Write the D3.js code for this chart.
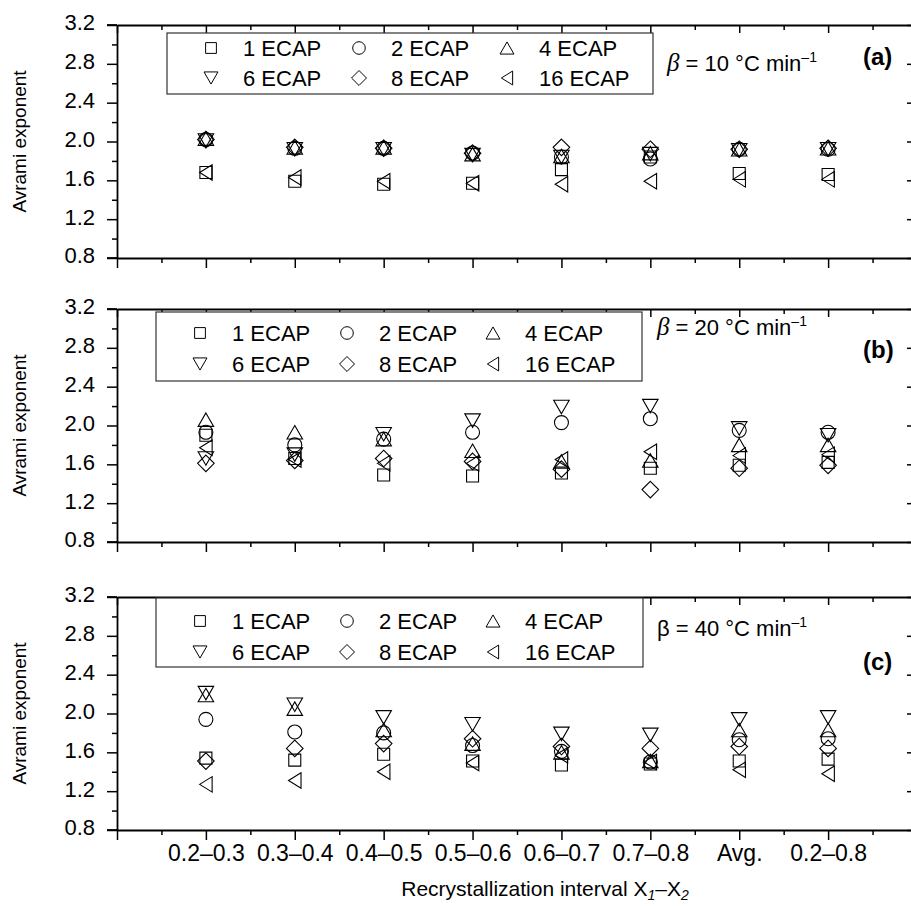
<!DOCTYPE html>
<html>
<head>
<meta charset="utf-8">
<script src="https://cdn.jsdelivr.net/npm/d3@7"></script>
<style>
  body { margin: 0; background: #fff; }
  svg { display: block; font-family: "Liberation Sans", Arial, sans-serif; }
</style>
</head>
<body>
<svg id="chart" width="911" height="906"></svg>
<script>
// Recrystallization intervals on the x axis
const intervals = ["0.2–0.3", "0.3–0.4", "0.4–0.5", "0.5–0.6", "0.6–0.7", "0.7–0.8", "Avg.", "0.2–0.8"];
// Number of ECAP passes (one series each)
const passes = ["1 ECAP", "2 ECAP", "4 ECAP", "6 ECAP", "8 ECAP", "16 ECAP"];
const yTickValues = [0.8, 1.2, 1.6, 2.0, 2.4, 2.8, 3.2];

// Avrami exponent, heating rate 10 °C/min; rows follow `passes`
const rate10 = [
  [1.68, 1.59, 1.56, 1.57, 1.71, 1.84, 1.67, 1.66],
  [2.02, 1.93, 1.93, 1.88, 1.84, 1.82, 1.92, 1.92],
  [2.03, 1.94, 1.94, 1.87, 1.85, 1.88, 1.92, 1.93],
  [2.01, 1.92, 1.92, 1.86, 1.84, 1.87, 1.91, 1.92],
  [2.02, 1.94, 1.93, 1.88, 1.94, 1.92, 1.92, 1.93],
  [1.68, 1.63, 1.59, 1.57, 1.56, 1.59, 1.61, 1.61]
];
// Heating rate 20 °C/min
const rate20 = [
  [1.90, 1.66, 1.49, 1.48, 1.51, 1.56, 1.59, 1.62],
  [1.93, 1.80, 1.86, 1.93, 2.03, 2.07, 1.95, 1.93],
  [2.06, 1.93, 1.86, 1.74, 1.63, 1.64, 1.80, 1.80],
  [1.66, 1.70, 1.91, 2.05, 2.19, 2.20, 1.97, 1.90],
  [1.61, 1.64, 1.66, 1.63, 1.55, 1.34, 1.56, 1.59],
  [1.77, 1.65, 1.61, 1.61, 1.65, 1.73, 1.69, 1.70]
];
// Heating rate 40 °C/min
const rate40 = [
  [1.54, 1.52, 1.58, 1.51, 1.47, 1.48, 1.51, 1.53],
  [1.94, 1.81, 1.80, 1.67, 1.61, 1.50, 1.73, 1.74],
  [2.19, 2.05, 1.83, 1.69, 1.60, 1.51, 1.83, 1.83],
  [2.21, 2.09, 1.96, 1.89, 1.79, 1.78, 1.94, 1.96],
  [1.51, 1.64, 1.69, 1.74, 1.66, 1.64, 1.66, 1.64],
  [1.27, 1.31, 1.40, 1.49, 1.57, 1.50, 1.42, 1.38]
];

// Open marker outlines, one per series, centred on (0,0)
const markerPaths = [
  "M-6,-6h12v12h-12Z",                                   // square
  d3.symbol(d3.symbolCircle, Math.PI * 49)(),            // circle r=7
  "M0,-6.75L7.75,6.75L-7.75,6.75Z",                      // triangle up
  "M0,6.75L7.75,-6.75L-7.75,-6.75Z",                     // triangle down
  "M0,-8.3L8.3,0L0,8.3L-8.3,0Z",                         // diamond
  "M-6.25,0L6.25,-7.75L6.25,7.75Z"                       // triangle left
];

const svg = d3.select("#chart");
const xLeft = 117, xRight = 917;
const x = d3.scaleLinear().domain([0, 9]).range([xLeft, xRight]);

const panelDefs = [
  { values: rate10, rate: "10", tag: "(a)", italicBeta: true,  top: 25,  bottom: 258,
    legend: { x: 167, y: 33,  w: 486, h: 61, rows: [15, 45], cols: [211, 359, 507] },
    betaPos: [667, 71], tagPos: [863, 65] },
  { values: rate20, rate: "20", tag: "(b)", italicBeta: true,  top: 309, bottom: 542,
    legend: { x: 156, y: 312, w: 486, h: 69, rows: [21, 52], cols: [200, 347, 493] },
    betaPos: [657, 335], tagPos: [863, 358] },
  { values: rate40, rate: "40", tag: "(c)", italicBeta: false, top: 597, bottom: 830,
    legend: { x: 156, y: 598, w: 487, h: 69, rows: [23, 54], cols: [200, 347, 493] },
    betaPos: [657, 636], tagPos: [863, 670] }
];

panelDefs.forEach((p, pi) => {
  const y = d3.scaleLinear().domain([0.8, 3.2]).range([p.bottom, p.top]);
  const g = svg.append("g");
  const minorY = d3.range(1.0, 3.2, 0.4);
  const majorX = d3.range(0, 10);
  const minorX = d3.range(0.5, 9, 1);

  const styleAxis = sel => {
    sel.selectAll(".domain").attr("stroke", "#000").attr("stroke-width", 1.8);
    sel.selectAll(".tick line").attr("stroke", "#000").attr("stroke-width", 1.5);
  };

  // left axis: labelled majors + minors, outward
  g.append("g").attr("transform", `translate(${xLeft},0)`)
    .call(d3.axisLeft(y).tickValues(yTickValues).tickSize(10).tickSizeOuter(0).tickFormat(d3.format(".1f")))
    .call(styleAxis)
    .call(s => s.selectAll("text").attr("font-size", 22).attr("fill", "#000").attr("x", -22).attr("dy", "0.22em"));
  g.append("g").attr("transform", `translate(${xLeft},0)`)
    .call(d3.axisLeft(y).tickValues(minorY).tickSize(5).tickFormat(""))
    .call(styleAxis).call(s => s.select(".domain").remove());

  // right axis: inward ticks
  g.append("g").attr("transform", `translate(${xRight},0)`)
    .call(d3.axisRight(y).tickValues(yTickValues).tickSize(-10).tickSizeOuter(0).tickFormat(""))
    .call(styleAxis);
  g.append("g").attr("transform", `translate(${xRight},0)`)
    .call(d3.axisRight(y).tickValues(minorY).tickSize(-5).tickFormat(""))
    .call(styleAxis).call(s => s.select(".domain").remove());

  // top axis: inward ticks
  g.append("g").attr("transform", `translate(0,${p.top})`)
    .call(d3.axisTop(x).tickValues(majorX).tickSize(-8).tickSizeOuter(0).tickFormat(""))
    .call(styleAxis);
  g.append("g").attr("transform", `translate(0,${p.top})`)
    .call(d3.axisTop(x).tickValues(minorX).tickSize(-5).tickFormat(""))
    .call(styleAxis).call(s => s.select(".domain").remove());
  g.append("line").attr("x1", xLeft - 10).attr("x2", xLeft).attr("y1", p.top).attr("y2", p.top)
    .attr("stroke", "#000").attr("stroke-width", 1.8);

  // bottom axis: outward ticks, interval labels only on the last panel
  const bottomAxis = d3.axisBottom(x).tickValues(majorX).tickSize(10).tickSizeOuter(0)
    .tickFormat(d => (pi === 2 && d >= 1 && d <= 8) ? intervals[d - 1] : "");
  g.append("g").attr("transform", `translate(0,${p.bottom})`)
    .call(bottomAxis).call(styleAxis)
    .call(s => s.selectAll("text").attr("font-size", 23).attr("fill", "#000").attr("y", 15));
  g.append("g").attr("transform", `translate(0,${p.bottom})`)
    .call(d3.axisBottom(x).tickValues(minorX).tickSize(5).tickFormat(""))
    .call(styleAxis).call(s => s.select(".domain").remove());
  g.append("line").attr("x1", xLeft - 10).attr("x2", xLeft).attr("y1", p.bottom).attr("y2", p.bottom)
    .attr("stroke", "#000").attr("stroke-width", 1.8);

  // y title
  g.append("text")
    .attr("transform", `translate(26,${(p.top + p.bottom) / 2}) rotate(-90)`)
    .attr("text-anchor", "middle").attr("font-size", 19).attr("fill", "#000")
    .text("Avrami exponent");

  // data markers
  p.values.forEach((series, si) => {
    g.append("g").selectAll("path").data(series).join("path")
      .attr("d", markerPaths[si])
      .attr("transform", (v, i) => `translate(${x(i + 1)},${y(v)})`)
      .attr("fill", "none").attr("stroke", "#000").attr("stroke-width", 1.1);
  });

  // legend
  const L = p.legend;
  const lg = g.append("g");
  lg.append("rect").attr("x", L.x).attr("y", L.y).attr("width", L.w).attr("height", L.h)
    .attr("fill", "#fff").attr("stroke", "#333").attr("stroke-width", 1.2);
  passes.forEach((name, si) => {
    const row = Math.floor(si / 3), col = si % 3;
    const cx = L.cols[col], cy = L.y + L.rows[row];
    lg.append("path").attr("d", markerPaths[si]).attr("transform", `translate(${cx},${cy}) scale(0.9)`)
      .attr("fill", "none").attr("stroke", "#000").attr("stroke-width", 1.1);
    lg.append("text").attr("x", cx + 32).attr("y", cy).attr("dy", "0.36em")
      .attr("font-size", 22).attr("fill", "#000").text(name);
  });

  // heating-rate annotation
  const bt = g.append("text").attr("x", p.betaPos[0]).attr("y", p.betaPos[1])
    .attr("font-size", 22).attr("fill", "#000");
  if (p.italicBeta) {
    bt.append("tspan").attr("font-family", "'Liberation Serif', 'DejaVu Serif', serif")
      .attr("font-style", "italic").attr("font-size", 25).text("β");
  } else {
    bt.append("tspan").text("β");
  }
  bt.append("tspan").text(` = ${p.rate} °C min`);
  bt.append("tspan").attr("font-size", 14).attr("dy", -9).text("–1");

  g.append("text").attr("x", p.tagPos[0]).attr("y", p.tagPos[1])
    .attr("font-size", 24).attr("font-weight", "bold").attr("fill", "#000").text(p.tag);
});

// x title with subscripts
const xt = svg.append("text").attr("x", 545).attr("y", 896).attr("text-anchor", "middle")
  .attr("font-size", 21).attr("fill", "#000");
xt.append("tspan").text("Recrystallization interval X");
xt.append("tspan").attr("font-size", 14).attr("font-style", "italic").attr("dy", 4).text("1");
xt.append("tspan").attr("dy", -4).text("–X");
xt.append("tspan").attr("font-size", 14).attr("font-style", "italic").attr("dy", 4).text("2");
</script>
</body>
</html>
